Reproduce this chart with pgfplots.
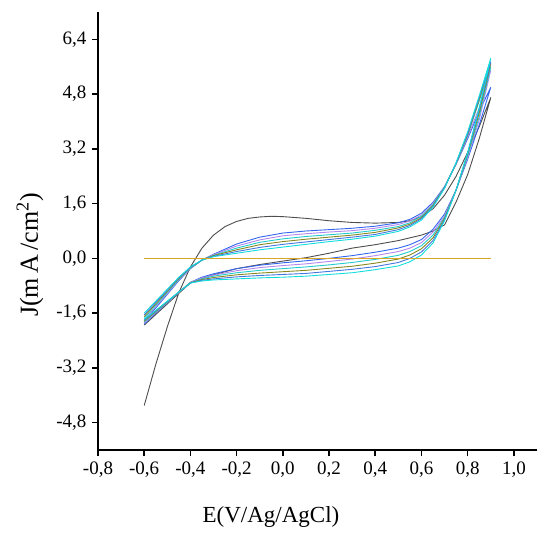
\documentclass[border=0pt]{standalone}
\usepackage{fontspec}
\setmainfont{Liberation Serif}
\usepackage{pgfplots}
\usepackage{pgfplotstable}
\pgfplotsset{compat=1.18}
\usetikzlibrary{calc}
\definecolor{cK}{HTML}{4D4D4D}
\definecolor{cA}{HTML}{3366EE}
\definecolor{cB}{HTML}{B388EE}
\definecolor{cC}{HTML}{22CCCC}
\definecolor{cD}{HTML}{888822}
\definecolor{cE}{HTML}{4477DD}
\definecolor{cF}{HTML}{11DDDD}
\definecolor{cO}{HTML}{D9A526}
\pgfplotstableread{
x     c1    c2    c3    c4    c5    c6
-0.6  -1.85 -1.80 -1.75 -1.70 -1.65 -1.60
-0.55 -1.45 -1.41 -1.37 -1.33 -1.29 -1.25
-0.5  -1.05 -1.02 -0.99 -0.96 -0.93 -0.90
-0.45 -0.65 -0.63 -0.61 -0.59 -0.57 -0.55
-0.4  -0.30 -0.29 -0.28 -0.27 -0.26 -0.25
-0.35 -0.05 -0.05 -0.05 -0.05 -0.05 -0.05
-0.3  0.12  0.11  0.09  0.08  0.06  0.05
-0.2  0.42  0.36  0.30  0.25  0.20  0.15
-0.1  0.62  0.54  0.47  0.40  0.32  0.25
0     0.74  0.66  0.57  0.49  0.41  0.33
0.1   0.80  0.72  0.64  0.56  0.48  0.41
0.2   0.84  0.77  0.69  0.62  0.55  0.49
0.3   0.88  0.81  0.74  0.68  0.62  0.56
0.4   0.94  0.88  0.82  0.76  0.70  0.65
0.5   1.04  0.99  0.93  0.89  0.84  0.79
0.55  1.14  1.09  1.04  1.00  0.96  0.92
0.6   1.32  1.27  1.23  1.19  1.16  1.12
0.65  1.64  1.60  1.57  1.55  1.52  1.50
0.7   2.10  2.09  2.08  2.07  2.06  2.05
0.75  2.75  2.76  2.77  2.78  2.79  2.80
0.8   3.50  3.55  3.60  3.62  3.65  3.70
0.85  4.30  4.40  4.60  4.65  4.70  4.75
0.9   5.00  5.50  5.60  5.70  5.75  5.85
0.85  3.90  4.05  4.15  4.25  4.35  4.40
0.8   2.90  2.95  3.00  3.05  3.08  3.10
0.75  2.00  2.00  2.00  2.00  2.00  2.00
0.7   1.30  1.25  1.20  1.17  1.13  1.10
0.65  0.85  0.77  0.68  0.60  0.52  0.45
0.6   0.55  0.46  0.37  0.28  0.19  0.10
0.55  0.40  0.30  0.20  0.10  0.00  -0.10
0.5   0.30  0.20  0.09  -0.02 -0.12 -0.22
0.4   0.18  0.08  -0.03 -0.14 -0.24 -0.33
0.3   0.08  -0.02 -0.12 -0.23 -0.32 -0.42
0.2   0.00  -0.09 -0.19 -0.29 -0.38 -0.47
0.1   -0.07 -0.16 -0.25 -0.35 -0.44 -0.52
0     -0.13 -0.21 -0.30 -0.39 -0.47 -0.55
-0.1  -0.20 -0.27 -0.35 -0.43 -0.50 -0.57
-0.2  -0.30 -0.36 -0.42 -0.48 -0.54 -0.60
-0.3  -0.45 -0.49 -0.52 -0.56 -0.60 -0.63
-0.35 -0.55 -0.57 -0.60 -0.62 -0.64 -0.66
-0.4  -0.70 -0.70 -0.71 -0.71 -0.72 -0.72
-0.45 -1.00 -1.00 -0.99 -0.99 -0.98 -0.98
-0.5  -1.30 -1.29 -1.28 -1.27 -1.26 -1.25
-0.55 -1.60 -1.58 -1.56 -1.55 -1.53 -1.52
-0.6  -1.92 -1.89 -1.86 -1.83 -1.80 -1.78
}\cv
\pgfplotstableread{
x     k
-0.6  -4.3
-0.55 -3.1
-0.5  -2.0
-0.45 -1.0
-0.4  -0.25
-0.35 0.3
-0.3  0.68
-0.25 0.93
-0.2  1.08
-0.15 1.17
-0.1  1.21
-0.05 1.23
0     1.22
0.1   1.17
0.2   1.10
0.3   1.05
0.4   1.03
0.5   1.05
0.55  1.10
0.6   1.22
0.65  1.45
0.7   1.85
0.75  2.40
0.8   3.10
0.85  3.85
0.9   4.70
0.85  3.50
0.8   2.45
0.75  1.65
0.7   0.98
0.65  0.80
0.6   0.68
0.55  0.60
0.5   0.52
0.4   0.40
0.3   0.30
0.2   0.15
0.1   0.02
0     -0.08
-0.1  -0.18
-0.2  -0.30
-0.3  -0.48
-0.35 -0.58
-0.4  -0.72
-0.45 -1.02
-0.5  -1.33
-0.55 -1.64
-0.6  -1.95
}\cvk
\begin{document}
\begin{tikzpicture}
\begin{axis}[name=ax, scale only axis, width=439pt, height=438pt,
  xmin=-0.8, xmax=1.1, ymin=-5.6, ymax=7.2,
  axis lines*=left,
  axis line style={line width=1.6pt, black},
  xtick={-0.8,-0.6,-0.4,-0.2,0,0.2,0.4,0.6,0.8,1.0},
  ytick={-4.8,-3.2,-1.6,0,1.6,3.2,4.8,6.4},
  tick align=outside, major tick length=6pt,
  tick style={line width=1.6pt, black},
  ticklabel style={font=\fontsize{19}{21}\selectfont},
  xticklabel style={yshift=-2pt},
  yticklabel style={xshift=-2pt},
  xlabel={E(V/Ag/AgCl)},
  xlabel style={font=\fontsize{23}{25}\selectfont, at={(axis description cs:0.394,0)}, anchor=base, yshift=-72pt},
  ylabel={J(m\,A\,/cm\textsuperscript{2})},
  ylabel style={font=\fontsize{26}{28}\selectfont, at={(axis description cs:0,0.445)}, anchor=center, yshift=68pt},
  every axis plot/.append style={line width=0.9pt, line join=round},
  /pgf/number format/.cd, use comma, fixed, fixed zerofill, precision=1, assume math mode=true
]
\addplot[cK] table[x=x,y=k] {\cvk};
\addplot[cA] table[x=x,y=c1] {\cv};
\addplot[cB] table[x=x,y=c2] {\cv};
\addplot[cC] table[x=x,y=c3] {\cv};
\addplot[cD] table[x=x,y=c4] {\cv};
\addplot[cE] table[x=x,y=c5] {\cv};
\addplot[cF] table[x=x,y=c6] {\cv};
\addplot[cO, line width=1.1pt] coordinates {(-0.6,0) (0.9,0)};
\end{axis}
\pgfresetboundingbox
\path ($(ax.south west)+(-98pt,-84pt)$) rectangle ($(ax.north east)+(0pt,12pt)$);
\end{tikzpicture}
\end{document}
